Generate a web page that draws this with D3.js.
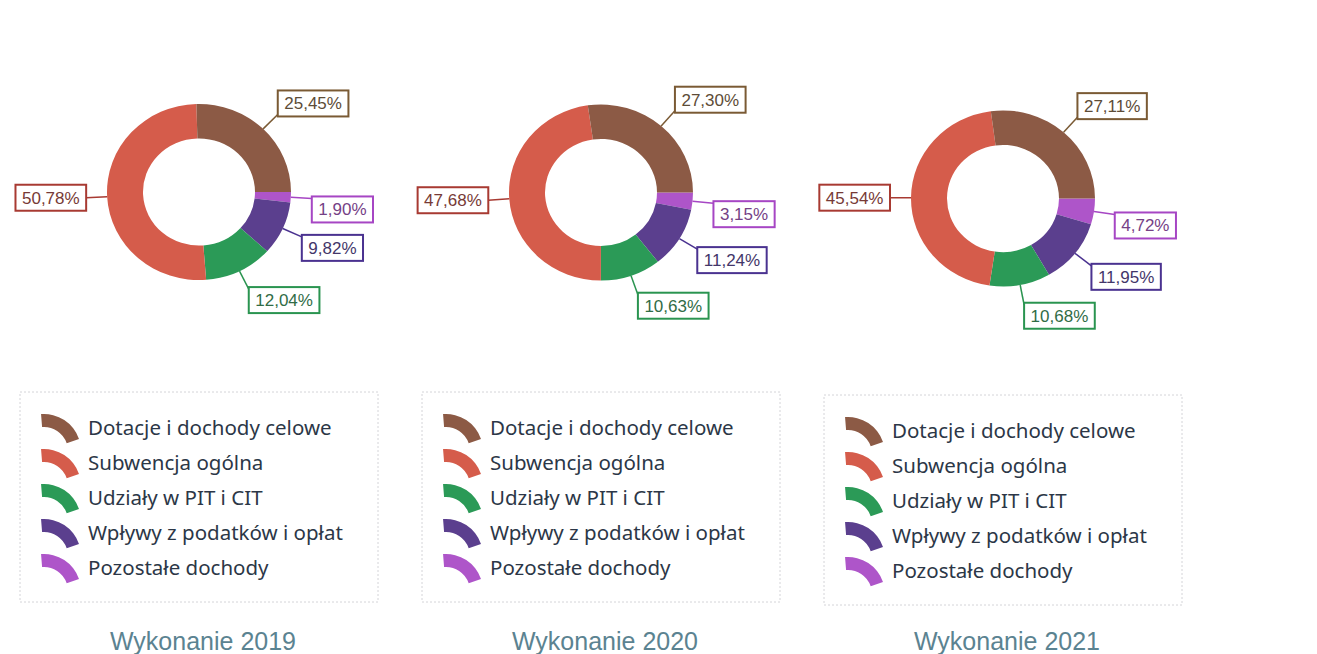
<!DOCTYPE html>
<html>
<head>
<meta charset="utf-8">
<script src="https://cdn.jsdelivr.net/npm/d3@7"></script>
<style>
  html, body { margin: 0; padding: 0; background: #ffffff; }
  svg { display: block; }
</style>
</head>
<body>
<svg id="chart" width="1317" height="654"></svg>
<script>
// ---- data ----
const categories = ["Dotacje i dochody celowe", "Subwencja ogólna", "Udziały w PIT i CIT", "Wpływy z podatków i opłat", "Pozostałe dochody"];
const titles = ["Wykonanie 2019", "Wykonanie 2020", "Wykonanie 2021"];
const values2019 = [25.45, 50.78, 12.04, 9.82, 1.90];
const values2020 = [27.30, 47.68, 10.63, 11.24, 3.15];
const values2021 = [27.11, 45.54, 10.68, 11.95, 4.72];
const seriesValues = [values2019, values2020, values2021];
const colors = ["#8c5a45", "#d55c4b", "#2b9a57", "#5b3f8e", "#ae55c9"];
const borderColors = ["#7a5a34", "#a83a32", "#2a9450", "#4a3290", "#a646c4"];

// ---- layout ----
const svg = d3.select("#chart");
const panelCx = [199, 601, 1003];
const panelCy = [192, 192.5, 198.5];
const legendTop = [392, 392, 395];
const R = 92, r0 = 56, ky = 0.957;

const arc = d3.arc().innerRadius(r0).outerRadius(R);
const pie = d3.pie().sort(null).value(d => d.v)
  .startAngle(Math.PI / 2).endAngle(Math.PI / 2 + 2 * Math.PI);
const fmt = v => d3.format(".2f")(v).replace(".", ",") + "%";

// legend icon: quarter ring
const iconArc = d3.arc().innerRadius(24).outerRadius(37).startAngle(-0.08).endAngle(1.24);

seriesValues.forEach((vals, p) => {
  const cx = panelCx[p], cy = panelCy[p];
  const data = vals.map((v, i) => ({ v, i })).reverse();
  const arcs = pie(data);
  const g = svg.append("g");

  g.append("g")
    .attr("transform", `translate(${cx},${cy}) scale(1,${ky})`)
    .selectAll("path").data(arcs).join("path")
    .attr("d", arc)
    .attr("fill", d => colors[d.data.i]);

  // labels
  arcs.forEach(d => {
    const a = (d.startAngle + d.endAngle) / 2;
    const s = Math.sin(a), c = Math.cos(a);
    const x1 = cx + R * s, y1 = cy - R * c * ky;
    const ex = cx + (R + 21) * s, ey = cy - (R + 21) * c * ky;
    const text = fmt(d.data.v);
    const t = g.append("text")
      .attr("font-family", "Liberation Sans, Arial, sans-serif")
      .attr("font-size", 17)
      .attr("fill", d3.interpolateRgb(borderColors[d.data.i], "#3a3a3a")(0.45))
      .text(text);
    const tw = t.node().getComputedTextLength();
    const bw = tw + 13, bh = 26;
    let bx, by;
    if (s < -0.2) { bx = ex - bw; by = ey - bh / 2; }
    else {
      bx = ex;
      by = c > 0.3 ? ey - bh + 2 : ey - 2;
    }
    g.insert("line", "text")
      .attr("x1", x1).attr("y1", y1).attr("x2", ex).attr("y2", ey)
      .attr("stroke", borderColors[d.data.i]).attr("stroke-width", 1.5);
    g.insert("rect", "text")
      .attr("x", bx).attr("y", by).attr("width", bw).attr("height", bh)
      .attr("fill", "#ffffff")
      .attr("stroke", borderColors[d.data.i]).attr("stroke-width", 2);
    t.attr("x", bx + bw / 2).attr("y", by + bh / 2 + 6).attr("text-anchor", "middle");
  });

  // legend
  const lx = cx - 179, ly = legendTop[p];
  g.append("rect")
    .attr("x", lx).attr("y", ly).attr("width", 358).attr("height", 210)
    .attr("fill", "none").attr("stroke", "#d4d4d8").attr("stroke-width", 1)
    .attr("stroke-dasharray", "2,2");
  categories.forEach((name, i) => {
    const iy = ly + 22 + i * 35;
    g.append("path")
      .attr("transform", `translate(${lx + 24},${iy + 37})`)
      .attr("d", iconArc())
      .attr("fill", colors[i]);
    g.append("text")
      .attr("x", lx + 68).attr("y", ly + 43 + i * 35)
      .attr("font-family", "Noto Sans, Open Sans, sans-serif")
      .attr("font-size", 20.5)
      .attr("fill", "#2c3747")
      .text(name);
  });

  // title
  g.append("text")
    .attr("x", cx + 4).attr("y", 650)
    .attr("text-anchor", "middle")
    .attr("font-family", "Liberation Sans, Arial, sans-serif")
    .attr("font-size", 25)
    .attr("fill", "#5b8391")
    .text(titles[p]);
});
</script>
</body>
</html>
